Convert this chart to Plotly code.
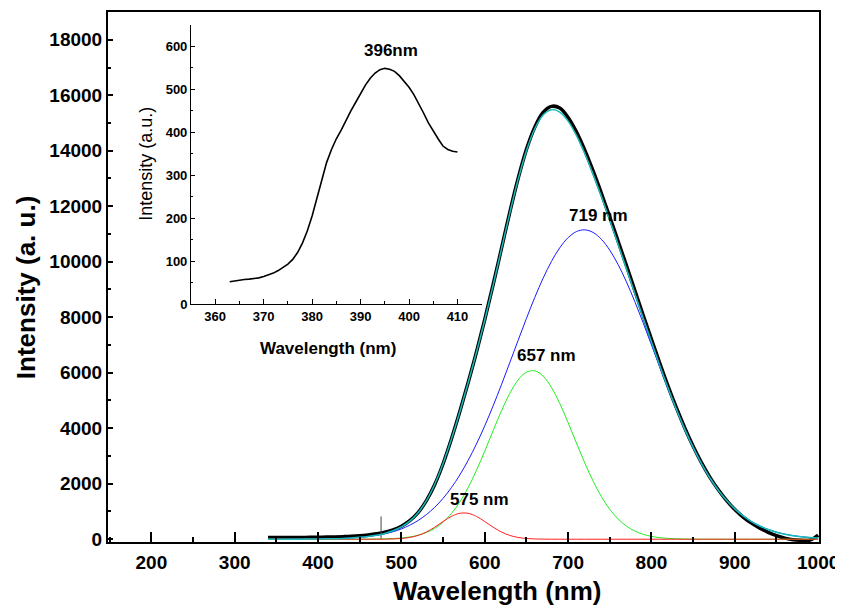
import plotly.graph_objects as go

# ---------------- main emission spectrum data ----------------
wavelength = list(range(340, 1001, 10))

measured = [60, 60, 62, 62, 65, 68, 72, 76, 82, 92,
            105, 125, 155, 195, 250, 340, 470, 670, 960, 1390,
            1970, 2720, 3610, 4590, 5640, 6740, 7920, 9170, 10470, 11780,
            13000, 14050, 14850, 15380, 15600, 15540, 15200, 14680, 14020, 13270,
            12460, 11610, 10740, 9860, 8970, 8080, 7200, 6340, 5510, 4730,
            4010, 3350, 2760, 2240, 1790, 1400, 1070, 800, 580, 400,
            250, 130, 40, -20, -40, -30, 150]

fit_719 = [0.4, 0.7, 1.2, 2, 3.2, 5.2, 8.2, 12.8, 19.7, 30,
           44.8, 66, 96, 138, 195, 271, 372, 505, 674, 888,
           1152, 1473, 1860, 2313, 2837, 3430, 4088, 4804, 5567, 6361,
           7165, 7957, 8713, 9406, 10010, 10504, 10868, 11086, 11149, 11055,
           10807, 10416, 9898, 9273, 8565, 7800, 7004, 6200, 5411, 4657,
           3952, 3305, 2725, 2215, 1776, 1404, 1095, 841, 637, 475,
           350, 254, 182, 128, 89, 61, 41]

fit_657 = [0, 0, 0, 0, 0, 0, 0, 0, 0, 0,
           0.5, 1.2, 2.6, 5.6, 11.6, 23, 44, 81, 142, 241,
           393, 616, 926, 1338, 1857, 2477, 3174, 3909, 4624, 5255,
           5738, 6020, 6069, 5878, 5470, 4890, 4201, 3467, 2749, 2094,
           1533, 1078, 728, 473, 295, 177, 102, 56, 30, 15,
           7.5, 3.5, 0, 0, 0, 0, 0, 0, 0, 0,
           0, 0, 0, 0, 0, 0, 0]

fit_575 = [0, 0, 0, 0, 0, 0, 0, 0, 0, 0,
           0, 0, 0, 0, 3, 9.5, 26, 64, 138, 261,
           435, 638, 823, 935, 935, 823, 638, 435, 261, 138,
           64, 26, 9.5, 3, 1, 0, 0, 0, 0, 0,
           0, 0, 0, 0, 0, 0, 0, 0, 0, 0,
           0, 0, 0, 0, 0, 0, 0, 0, 0, 0,
           0, 0, 0, 0, 0, 0, 0]

fit_total = [0.4, 0.7, 1.2, 2, 3, 5, 8, 13, 20, 30,
             45, 67, 99, 144, 209, 304, 442, 650, 954, 1390,
             1980, 2727, 3609, 4586, 5629, 6730, 7900, 9148, 10452, 11754,
             12967, 14003, 14791, 15287, 15481, 15394, 15069, 14553, 13898, 13149,
             12340, 11494, 10626, 9746, 8860, 7977, 7106, 6256, 5441, 4672,
             3960, 3309, 2725, 2215, 1776, 1404, 1095, 841, 637, 475,
             350, 254, 182, 128, 89, 61, 41]

spike_x = [475.6, 475.6]
spike_y = [0, 820]

peak_labels = ["575 nm", "657 nm", "719 nm"]
peak_label_x = [594, 674, 736]
peak_label_y = [1420, 6610, 11660]

# ---------------- inset excitation spectrum data ----------------
exc_wavelength = list(range(363, 411))
exc_intensity = [52, 54, 55, 57, 58, 59, 61, 64, 68, 72,
                 78, 85, 93, 104, 120, 142, 170, 205, 248, 292,
                 330, 360, 385, 405, 428, 450, 470, 490, 510, 526,
                 538, 546, 549, 547, 542, 532, 518, 505, 488, 468,
                 445, 422, 402, 385, 368, 360, 356, 354]

FONT = "Arial, Liberation Sans, sans-serif"

fig = go.Figure()

fig.add_trace(go.Scatter(x=wavelength, y=measured, mode="lines",
                         line=dict(color="black", width=3.5, shape="spline"),
                         showlegend=False))
fig.add_trace(go.Scatter(x=spike_x, y=spike_y, mode="lines",
                         line=dict(color="#444444", width=1),
                         showlegend=False))
fig.add_trace(go.Scatter(x=wavelength, y=fit_719, mode="lines",
                         line=dict(color="#1a1aff", width=1, shape="spline"),
                         showlegend=False))
fig.add_trace(go.Scatter(x=wavelength, y=fit_657, mode="lines",
                         line=dict(color="#22ee22", width=1, shape="spline"),
                         showlegend=False))
fig.add_trace(go.Scatter(x=wavelength, y=fit_575, mode="lines",
                         line=dict(color="#ff2020", width=1, shape="spline"),
                         showlegend=False))
fig.add_trace(go.Scatter(x=wavelength, y=fit_total, mode="lines",
                         line=dict(color="#14bcbc", width=1.5, shape="spline"),
                         showlegend=False))

fig.add_trace(go.Scatter(x=exc_wavelength, y=exc_intensity, mode="lines",
                         line=dict(color="black", width=1.6),
                         xaxis="x2", yaxis="y2", showlegend=False))

# page body has an 8px default margin, so the figure is 835x600 and offset by 8px
fig.update_layout(
    width=835, height=600,
    margin=dict(l=100, r=24, t=4, b=66),
    paper_bgcolor="white", plot_bgcolor="white",
    font=dict(family=FONT, color="black"),
    xaxis=dict(
        range=[148, 1001], domain=[0, 1], anchor="y", automargin=False,
        tickmode="linear", tick0=0, dtick=100,
        ticks="inside", ticklen=10, tickwidth=2, tickcolor="black",
        minor=dict(ticks="inside", ticklen=5, tickwidth=2, dtick=50, tick0=0, tickcolor="black"),
        showline=True, linewidth=2, linecolor="black", mirror=True,
        showgrid=False, zeroline=False,
        tickfont=dict(family=FONT, size=19, weight="bold"),
        ticklabelstandoff=2,
    ),
    yaxis=dict(
        range=[-100, 19000], domain=[0, 1], anchor="x", automargin=False,
        tickmode="linear", tick0=0, dtick=2000, tickformat="d",
        ticks="inside", ticklen=5, tickwidth=2, tickcolor="black",
        minor=dict(ticks="inside", ticklen=3, tickwidth=2, dtick=1000, tick0=0, tickcolor="black"),
        showline=True, linewidth=2, linecolor="black", mirror=True,
        showgrid=False, zeroline=False,
        tickfont=dict(family=FONT, size=19, weight="bold"),
    ),
    xaxis2=dict(
        range=[355, 415], domain=[0.1167, 0.5256], anchor="y2", automargin=False,
        tickmode="linear", tick0=0, dtick=10,
        ticks="inside", ticklen=5, tickwidth=1, tickcolor="black",
        minor=dict(ticks="inside", ticklen=3, tickwidth=1, dtick=5, tick0=0, tickcolor="black"),
        showline=True, linewidth=1, linecolor="black", mirror=False,
        showgrid=False, zeroline=False,
        tickfont=dict(family=FONT, size=13, weight="bold"),
    ),
    yaxis2=dict(
        range=[0, 650], domain=[0.449, 0.9755], anchor="x2", automargin=False,
        tickmode="linear", tick0=0, dtick=100,
        ticks="inside", ticklen=4, tickwidth=1, tickcolor="black",
        minor=dict(ticks="inside", ticklen=2.5, tickwidth=1, dtick=50, tick0=0, tickcolor="black"),
        showline=True, linewidth=1, linecolor="black", mirror=False,
        showgrid=False, zeroline=False,
        tickfont=dict(family=FONT, size=13, weight="bold"),
    ),
)

annotations = []
for txt, ax_, ay_ in zip(peak_labels, peak_label_x, peak_label_y):
    annotations.append(dict(x=ax_, y=ay_, xref="x", yref="y", text=txt,
                            xanchor="center", yanchor="middle",
                            showarrow=False, font=dict(family=FONT, size=17, weight="bold")))
annotations.append(dict(x=396.3, y=591, xref="x2", yref="y2", text="396nm",
                        xanchor="center", yanchor="middle",
                        showarrow=False, font=dict(family=FONT, size=17, weight="bold")))
annotations.append(dict(x=-0.1153, y=0.479, xref="paper", yref="paper",
                        text="Intensity (a. u.)", textangle=-90, showarrow=False,
                        xanchor="center", yanchor="middle",
                        font=dict(family=FONT, size=26, weight="bold")))
annotations.append(dict(x=0.547, y=-0.093, xref="paper", yref="paper",
                        text="Wavelength (nm)", showarrow=False,
                        xanchor="center", yanchor="middle",
                        font=dict(family=FONT, size=26, weight="bold")))
annotations.append(dict(x=0.053, y=0.713, xref="paper", yref="paper",
                        text="Intensity (a.u.)", textangle=-90, showarrow=False,
                        xanchor="center", yanchor="middle",
                        font=dict(family=FONT, size=18)))
annotations.append(dict(x=0.3094, y=0.366, xref="paper", yref="paper",
                        text="Wavelength (nm)", showarrow=False,
                        xanchor="center", yanchor="middle",
                        font=dict(family=FONT, size=17, weight="bold")))
fig.update_layout(annotations=annotations)

fig.write_html("out.html")
